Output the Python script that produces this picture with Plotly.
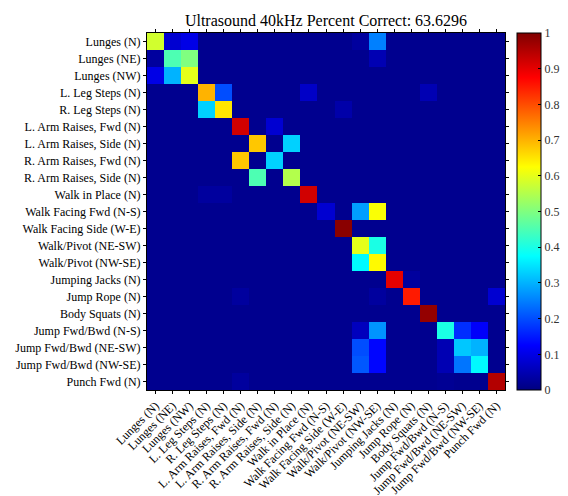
import plotly.graph_objects as go

labels = ["Lunges (N)", "Lunges (NE)", "Lunges (NW)", "L. Leg Steps (N)", "R. Leg Steps (N)",
          "L. Arm Raises, Fwd (N)", "L. Arm Raises, Side (N)", "R. Arm Raises, Fwd (N)",
          "R. Arm Raises, Side (N)", "Walk in Place (N)", "Walk Facing Fwd (N-S)",
          "Walk Facing Side (W-E)", "Walk/Pivot (NE-SW)", "Walk/Pivot (NW-SE)",
          "Jumping Jacks (N)", "Jump Rope (N)", "Body Squats (N)", "Jump Fwd/Bwd (N-S)",
          "Jump Fwd/Bwd (NE-SW)", "Jump Fwd/Bwd (NW-SE)", "Punch Fwd (N)"]

title_text = "Ultrasound 40kHz Percent Correct: 63.6296"

# rows = true class, cols = predicted class (sparse entries, rest small)
cells = {
    (0, 0): 0.58, (0, 1): 0.08, (0, 2): 0.10, (0, 13): 0.25, (0, 12): 0.03,
    (1, 0): 0.03, (1, 1): 0.45, (1, 2): 0.50, (1, 13): 0.05,
    (2, 0): 0.10, (2, 1): 0.30, (2, 2): 0.60,
    (3, 3): 0.70, (3, 4): 0.20, (3, 9): 0.07, (3, 16): 0.05,
    (4, 3): 0.33, (4, 4): 0.65, (4, 11): 0.04,
    (5, 5): 0.92, (5, 7): 0.08,
    (6, 6): 0.68, (6, 8): 0.33,
    (7, 5): 0.68, (7, 7): 0.33,
    (8, 6): 0.45, (8, 8): 0.55,
    (9, 9): 0.92, (9, 3): 0.03, (9, 4): 0.03,
    (10, 10): 0.08, (10, 12): 0.28, (10, 13): 0.62,
    (11, 11): 0.99,
    (12, 12): 0.60, (12, 13): 0.40,
    (13, 12): 0.37, (13, 13): 0.63,
    (14, 14): 0.90, (14, 15): 0.03,
    (15, 15): 0.85, (15, 20): 0.08, (15, 5): 0.03, (15, 13): 0.03,
    (16, 16): 0.98,
    (17, 12): 0.06, (17, 13): 0.27, (17, 17): 0.40, (17, 18): 0.17, (17, 19): 0.12,
    (18, 12): 0.20, (18, 13): 0.13, (18, 17): 0.05, (18, 18): 0.32, (18, 19): 0.30,
    (19, 12): 0.21, (19, 13): 0.13, (19, 17): 0.05, (19, 18): 0.24, (19, 19): 0.37,
    (20, 20): 0.95, (20, 5): 0.03, (20, 17): 0.02,
}
background = 0.015

n = len(labels)
z = [[cells.get((r, c), background) for c in range(n)] for r in range(n)]

jet = [[0.0, "rgb(0,0,128)"], [0.125, "rgb(0,0,255)"], [0.375, "rgb(0,255,255)"],
       [0.625, "rgb(255,255,0)"], [0.875, "rgb(255,0,0)"], [1.0, "rgb(128,0,0)"]]

serif = "Liberation Serif, Times New Roman, serif"

fig = go.Figure(go.Heatmap(
    z=z, x=labels, y=labels, colorscale=jet, zmin=0, zmax=1,
    colorbar=dict(x=1.0335, xanchor="left", y=0.5, yanchor="middle", len=1.0, lenmode="fraction",
                  thickness=24, outlinecolor="black", outlinewidth=1, xpad=0, ypad=0,
                  tickvals=[0, 0.1, 0.2, 0.3, 0.4, 0.5, 0.6, 0.7, 0.8, 0.9, 1],
                  ticktext=["0", "0.1", "0.2", "0.3", "0.4", "0.5", "0.6", "0.7", "0.8", "0.9", "1"],
                  ticks="inside", ticklen=3, tickcolor="black",
                  tickfont=dict(family=serif, size=12, color="#333")),
))

fig.update_layout(
    width=560, height=488,
    margin=dict(l=139, r=63, t=25, b=106, autoexpand=False),
    paper_bgcolor="white", plot_bgcolor="white",
    title=dict(text=title_text, x=0.5, xanchor="center", xref="paper", y=0.975, yanchor="middle",
               font=dict(family=serif, size=16, color="black")),
    font=dict(family=serif, size=12, color="black"),
)
fig.update_xaxes(tickangle=-45, ticks="outside", ticklen=3, tickcolor="black", showline=True,
                 linecolor="black", linewidth=1, mirror="ticks", automargin=False,
                 tickfont=dict(family=serif, size=12, color="black"))
fig.update_yaxes(autorange="reversed", ticks="outside", ticklen=3, tickcolor="black", showline=True,
                 linecolor="black", linewidth=1, mirror="ticks", automargin=False,
                 tickfont=dict(family=serif, size=12, color="black"))

fig.write_html("out.html")
